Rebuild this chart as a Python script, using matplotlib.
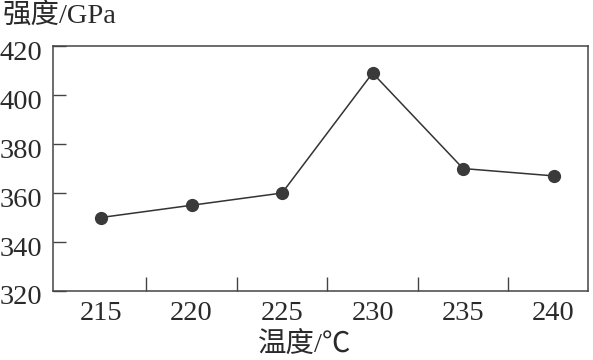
import matplotlib
matplotlib.use("Agg")
import matplotlib.pyplot as plt
import matplotlib.transforms as mtransforms

temperatures = ["215", "220", "225", "230", "235", "240"]
strength = [350, 355, 360, 409, 370, 367]
y_ticks = [320, 340, 360, 380, 400, 420]

plt.rcParams['font.family'] = ['Liberation Serif', 'Noto Sans CJK SC', 'DejaVu Sans']

fig = plt.figure(figsize=(5.93, 3.60), dpi=100)
ax = fig.add_axes([0.0894, 0.1917, 0.9022, 0.6803])

x = list(range(len(temperatures)))
ax.plot(x, strength, color="#333333", lw=1.1, marker="o", ms=8.5,
        mfc="#3a3a3a", mec="#3a3a3a", zorder=3)

ax.set_xlim(-0.53, 5.38)
ax.set_ylim(320, 420)

# tick marks at category boundaries, labels at categories
ax.set_xticks([i + 0.5 for i in range(len(temperatures) - 1)])
ax.set_xticklabels([])
ax.set_xticks(x, minor=True)
ax.set_xticklabels(temperatures, minor=True, fontsize=20.5, color="#2a2a2a")
ax.tick_params(axis="x", which="major", direction="in", length=10, width=1.0, color="#444444")
ax.tick_params(axis="x", which="minor", length=0, pad=7)

ax.set_yticks(y_ticks)
ax.set_yticklabels([str(v) for v in y_ticks], fontsize=20.5, color="#2a2a2a")
ax.tick_params(axis="y", direction="in", length=9, width=1.0, color="#444444", pad=8)
shift = mtransforms.ScaledTranslation(0, -4 / 100, fig.dpi_scale_trans)
for lbl in ax.get_yticklabels():
    lbl.set_transform(lbl.get_transform() + shift)

for s in ax.spines.values():
    s.set_color("#444444")
    s.set_linewidth(1.1)

fig.text(0.004, 0.955, "强度/GPa", fontsize=20.5, color="#2a2a2a", ha="left", va="center")
fig.text(0.514, 0.04, "温度/℃", fontsize=20.5, color="#2a2a2a", ha="center", va="center")

fig.savefig("out.png", dpi=100)
